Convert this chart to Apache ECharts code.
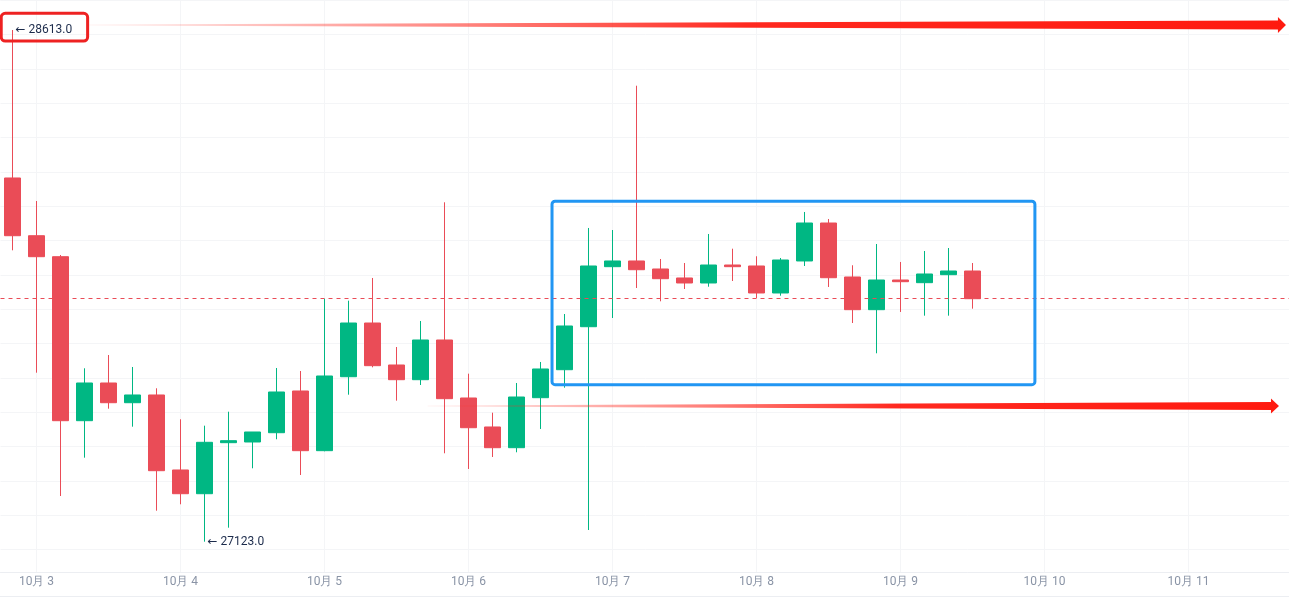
<!DOCTYPE html>
<html><head><meta charset="utf-8">
<script src="https://cdn.jsdelivr.net/npm/echarts@6/dist/echarts.min.js"></script>
<style>html,body{margin:0;padding:0;background:#fff;overflow:hidden}#c{width:1289px;height:603px}</style>
</head><body><div id="c"></div>
<script>
// 4-hour candle slots (including empty future slots)
const categories = [
  '10-02 20:00',
  '10-03 00:00','10-03 04:00','10-03 08:00','10-03 12:00','10-03 16:00','10-03 20:00',
  '10-04 00:00','10-04 04:00','10-04 08:00','10-04 12:00','10-04 16:00','10-04 20:00',
  '10-05 00:00','10-05 04:00','10-05 08:00','10-05 12:00','10-05 16:00','10-05 20:00',
  '10-06 00:00','10-06 04:00','10-06 08:00','10-06 12:00','10-06 16:00','10-06 20:00',
  '10-07 00:00','10-07 04:00','10-07 08:00','10-07 12:00','10-07 16:00','10-07 20:00',
  '10-08 00:00','10-08 04:00','10-08 08:00','10-08 12:00','10-08 16:00','10-08 20:00',
  '10-09 00:00','10-09 04:00','10-09 08:00','10-09 12:00','10-09 16:00','10-09 20:00',
  '10-10 00:00','10-10 04:00','10-10 08:00','10-10 12:00','10-10 16:00','10-10 20:00',
  '10-11 00:00','10-11 04:00','10-11 08:00','10-11 12:00','10-11 16:00'
];
const tickLabels = ['10月 3','10月 4','10月 5','10月 6','10月 7','10月 8','10月 9','10月 10','10月 11'];

const opens  = [28182.1,28014.0,27952.9,27475.3,27585.1,27527.7,27550.2,27331.8,27262.7,27411.3,
                27413.3,27440.3,27561.8,27388.0,27603.4,27759.8,27637.5,27594.7,27710.3,27541.4,
                27457.0,27396.7,27542.3,27623.8,27749.0,27923.8,27940.4,27917.1,27890.9,27876.3,
                27928.7,27925.8,27847.2,27940.4,28051.0,27893.8,27798.6,27885.0,27877.2,27900.5,
                27911.2];
const closes = [28014.0,27952.9,27475.3,27585.1,27527.7,27550.2,27329.7,27262.7,27412.4,27417.1,
                27442.4,27558.9,27388.0,27605.5,27759.8,27635.5,27594.7,27710.3,27539.4,27454.9,
                27396.7,27544.3,27625.9,27751.1,27925.8,27940.4,27915.0,27888.8,27876.3,27928.7,
                27923.8,27847.2,27943.3,28051.0,27891.7,27798.6,27885.0,27880.1,27902.5,27911.2,
                27830.6];
const lows   = [27971.5,27615.1,27256.0,27367.6,27510.3,27457.9,27213.2,27231.9,27123.0,27163.7,
                27336.7,27421.2,27317.2,27386.2,27551.0,27630.8,27533.6,27579.3,27380.4,27334.7,
                27369.6,27383.3,27451.2,27571.4,27157.0,27774.4,27861.7,27823.0,27858.8,27865.5,
                27882.1,27832.6,27839.3,27925.8,27864.7,27759.8,27671.6,27791.9,27781.1,27781.1,
                27801.5];
const highs  = [28613.0,28115.1,27957.8,27627.9,27666.6,27631.7,27569.7,27479.4,27460.8,27501.5,
                27442.4,27628.8,27620.0,27830.6,27824.8,27890.9,27689.9,27765.6,28111.3,27612.2,
                27498.6,27585.1,27646.3,27786.0,28036.5,28030.6,28450.8,27946.2,27934.5,28019.0,
                27976.2,27954.1,27949.1,28083.1,28062.7,27927.9,27989.9,27937.5,27969.5,27978.2,
                27934.5];

// hand-drawn annotations, in (slot index, price) space
const annoBox    = {x0: -0.47, x1: 3.13, pTop: 28661.7, pBot: 28581.0};
const annoRange  = {x0: 22.48, x1: 42.6, pTop: 28114.5, pBot: 27580.2};
const annoArrows = [
  {x0: 3.1, x1: 53.06, p: 28627.6, half: 4.5, head: 8, headHalf: 8},
  {x0: 17.3, x1: 52.77, p: 27518.1, half: 4, head: 8, headHalf: 7.5}
];

const UP = '#00b783', DOWN = '#ea4c57';
const kData = opens.map((o, i) => [o, closes[i], lows[i], highs[i]]);
let hiIdx = 0, loIdx = 0;
highs.forEach((h, i) => { if (h > highs[hiIdx]) hiIdx = i; });
lows.forEach((l, i) => { if (l < lows[loIdx]) loIdx = i; });
const lastClose = closes[closes.length - 1];

const isDay = (i, v) => v.endsWith('00:00');

const annoItems = ['box', 'range', 'arrow0', 'arrow1', 'hi', 'lo'];

function renderAnno(params, api) {
  const kind = annoItems[params.dataIndex];
  const base = api.coord([0, 28000]);
  const band = api.coord([1, 28000])[0] - base[0];
  const X = v => base[0] + v * band;
  const Y = p => api.coord([0, p])[1];
  if (kind === 'box') {
    const a = annoBox;
    return {type: 'rect', shape: {x: X(a.x0), y: Y(a.pTop), width: X(a.x1) - X(a.x0), height: Y(a.pBot) - Y(a.pTop), r: 4},
      style: {fill: 'none', stroke: '#ee2222', lineWidth: 3}};
  }
  if (kind === 'range') {
    const a = annoRange;
    return {type: 'rect', shape: {x: X(a.x0), y: Y(a.pTop), width: X(a.x1) - X(a.x0), height: Y(a.pBot) - Y(a.pTop), r: 3},
      style: {fill: 'none', stroke: '#2196f3', lineWidth: 3}};
  }
  if (kind === 'arrow0' || kind === 'arrow1') {
    const a = annoArrows[kind === 'arrow0' ? 0 : 1];
    const x0 = X(a.x0), x1 = X(a.x1), y = Y(a.p), hx = x1 - a.head;
    return {type: 'polygon', shape: {points: [
        [x0, y - 0.5], [hx, y - a.half], [hx, y - a.headHalf], [x1, y],
        [hx, y + a.headHalf], [hx, y + a.half], [x0, y + 0.5]]},
      style: {fill: new echarts.graphic.LinearGradient(0, 0, 1, 0, [
        {offset: 0, color: 'rgba(255,40,30,0.05)'},
        {offset: 0.3, color: 'rgba(255,40,30,0.55)'},
        {offset: 0.55, color: 'rgba(255,30,20,0.95)'},
        {offset: 1, color: 'rgba(255,26,15,1)'}])}};
  }
  const idx = kind === 'hi' ? hiIdx : loIdx;
  const price = kind === 'hi' ? highs[hiIdx] : lows[loIdx];
  return {type: 'text', style: {text: '{a|\u2190} ' + price.toFixed(1), x: X(idx) + 3, y: Y(price),
    verticalAlign: 'middle', align: 'left', fill: '#1c2b4b', font: '12px Roboto, sans-serif',
    rich: {a: {fontFamily: 'DejaVu Sans', fontSize: 12, fill: '#1c2b4b'}}}};
}

const chart = echarts.init(document.getElementById('c'));
chart.setOption({
  animation: false,
  backgroundColor: '#ffffff',
  grid: {left: 0.5, top: 0, width: 1296, height: 572, containLabel: false, outerBoundsMode: 'none'},
  xAxis: {
    type: 'category', data: categories, boundaryGap: true,
    axisLine: {show: true, lineStyle: {color: '#eceef2', width: 1}},
    axisTick: {show: false},
    axisLabel: {interval: isDay, margin: 4, color: '#8a94a6', fontSize: 12, fontFamily: 'Roboto, sans-serif',
      formatter: v => tickLabels[parseInt(v.slice(3, 5), 10) - 3]},
    splitLine: {show: true, interval: isDay, alignWithLabel: true, lineStyle: {color: '#f4f5f7', width: 1}}
  },
  yAxis: {
    type: 'value', position: 'right', min: 27034.7, max: 28700.4, scale: true,
    minInterval: 100, maxInterval: 100, splitNumber: 16,
    axisLabel: {show: false}, axisLine: {show: false}, axisTick: {show: false},
    splitLine: {show: true, lineStyle: {color: '#f4f5f7', width: 1}}
  },
  graphic: [{type: 'rect', shape: {x: 0, y: 596, width: 1289, height: 1}, style: {fill: '#eceef2'}, silent: true}],
  series: [
    {
      type: 'candlestick', data: kData, barWidth: 16, silent: true,
      itemStyle: {color: UP, color0: DOWN, borderColor: UP, borderColor0: DOWN, borderWidth: 1},
      markLine: {
        silent: true, symbol: 'none', animation: false,
        label: {show: false},
        lineStyle: {color: DOWN, type: [4, 4], width: 1},
        data: [{yAxis: lastClose}]
      }
    },
    {
      type: 'custom', renderItem: renderAnno, clip: false, silent: true, z: 10,
      data: annoItems.map(() => [0, 28000])
    }
  ]
});
</script>
</body></html>
